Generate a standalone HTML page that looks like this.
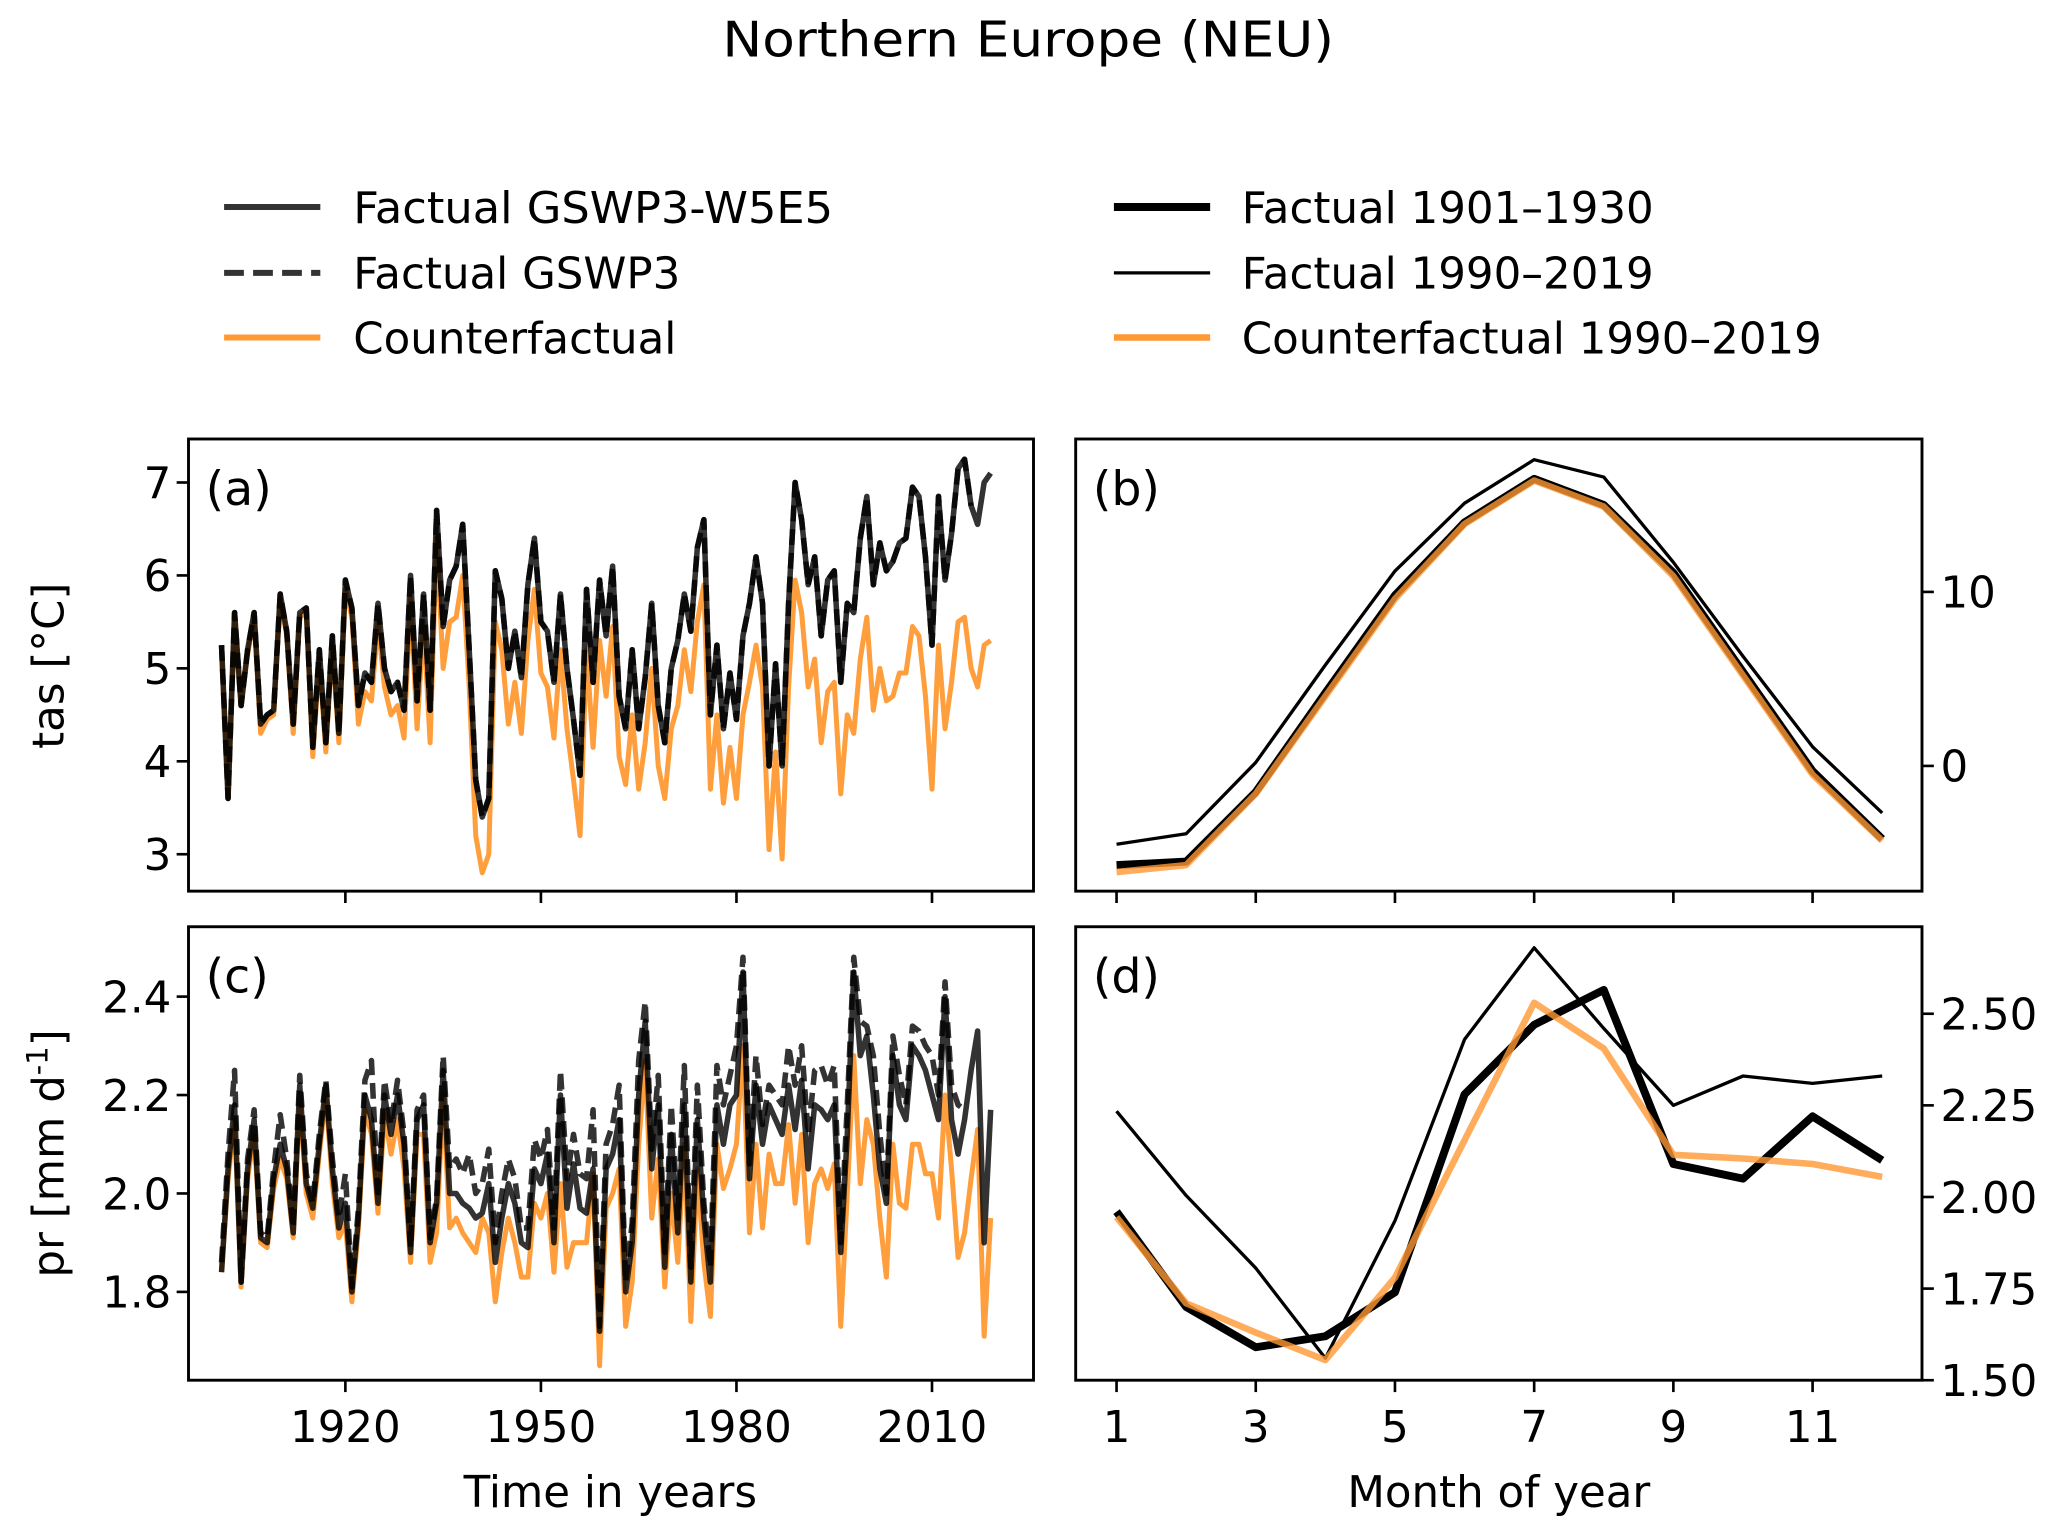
<!DOCTYPE html>
<html><head><meta charset="utf-8"><style>
html,body{margin:0;padding:0;background:#fff}
svg{display:block}
text{font-family:"DejaVu Sans","Liberation Sans",sans-serif;fill:#000}
</style></head><body>
<svg id="fig" width="2067" height="1535" viewBox="0 0 1568 1164.4" xmlns="http://www.w3.org/2000/svg">
<text x="780" y="43" font-size="37" text-anchor="middle" textLength="464" lengthAdjust="spacingAndGlyphs">Northern Europe (NEU)</text>
<g>
 <g><line x1="170" x2="243" y1="157" y2="157" stroke="#333" stroke-width="4.5"/><text x="268" y="169" font-size="33" textLength="364" lengthAdjust="spacingAndGlyphs">Factual GSWP3-W5E5</text></g>
 <g><line x1="170" x2="243" y1="207" y2="207" stroke="#333" stroke-width="4.5" stroke-dasharray="15,7"/><text x="268" y="219" font-size="33">Factual GSWP3</text></g>
 <g><line x1="170" x2="243" y1="256" y2="256" stroke="#ff9933" stroke-width="4.5"/><text x="268" y="268" font-size="33">Counterfactual</text></g>
 <g><line x1="845" x2="918" y1="157" y2="157" stroke="#000" stroke-width="6"/><text x="942" y="169" font-size="33">Factual 1901–1930</text></g>
 <g><line x1="845" x2="918" y1="207" y2="207" stroke="#000" stroke-width="2.5"/><text x="942" y="219" font-size="33">Factual 1990–2019</text></g>
 <g><line x1="845" x2="918" y1="256" y2="256" stroke="#ff9933" stroke-width="5"/><text x="942" y="268" font-size="33">Counterfactual 1990–2019</text></g>
</g>
<g id="plots"></g>
</svg>
<script>
const years = []; for (let y = 1901; y <= 2019; y++) years.push(y);
const tasW5E5 = [5.25,3.6,5.6,4.6,5.2,5.6,4.4,4.5,4.55,5.8,5.4,4.4,5.6,5.65,4.15,5.2,4.2,5.35,4.3,5.95,5.65,4.6,4.95,4.85,5.7,5.0,4.75,4.85,4.55,6.0,4.65,5.8,4.55,6.7,5.45,5.95,6.1,6.55,5.2,3.8,3.4,3.6,6.05,5.75,5.0,5.4,4.9,5.9,6.4,5.5,5.4,4.85,5.8,5.0,4.45,3.85,5.85,4.85,5.95,5.35,6.1,4.7,4.35,5.2,4.35,4.9,5.7,4.6,4.2,5.0,5.3,5.8,5.4,6.3,6.6,4.5,5.25,4.35,4.95,4.45,5.35,5.7,6.2,5.7,3.95,5.05,3.95,5.7,7.0,6.6,5.9,6.2,5.35,5.95,6.05,4.85,5.7,5.6,6.4,6.85,5.9,6.35,6.05,6.15,6.35,6.4,6.95,6.85,6.2,5.25,6.85,5.95,6.45,7.15,7.25,6.75,6.55,7.0,7.1];
const tasGSWP3 = [5.25,3.6,5.6,4.6,5.2,5.6,4.4,4.5,4.55,5.8,5.4,4.4,5.6,5.65,4.15,5.2,4.2,5.35,4.3,5.95,5.65,4.6,4.95,4.85,5.7,5.0,4.75,4.85,4.55,6.0,4.65,5.8,4.55,6.7,5.45,5.95,6.1,6.55,5.2,3.8,3.4,3.6,6.05,5.75,5.0,5.4,4.9,5.9,6.4,5.5,5.4,4.85,5.8,5.0,4.45,3.85,5.85,4.85,5.95,5.35,6.1,4.7,4.35,5.2,4.35,4.9,5.7,4.6,4.2,5.0,5.3,5.8,5.4,6.3,6.6,4.5,5.25,4.35,4.95,4.45,5.35,5.7,6.2,5.7,3.95,5.05,3.95,5.7,7.0,6.6,5.9,6.2,5.35,5.95,6.05,4.85,5.7,5.6,6.4,6.85,5.9,6.35,6.05,6.15,6.35,6.4,6.95,6.85,6.2,5.25,6.85,5.95,6.45,7.15,7.25,6.75];
const tasCounter = [5.2,3.6,5.6,4.6,5.15,5.55,4.3,4.45,4.5,5.75,5.35,4.3,5.55,5.6,4.05,5.1,4.1,5.25,4.2,5.85,5.55,4.4,4.75,4.65,5.5,4.8,4.5,4.6,4.25,5.75,4.35,5.5,4.2,6.4,5.0,5.5,5.55,6.0,4.8,3.2,2.8,3.0,5.5,5.2,4.4,4.85,4.3,5.3,5.85,4.95,4.8,4.25,5.2,4.35,3.8,3.2,5.2,4.15,5.3,4.7,5.45,4.05,3.75,4.5,3.7,4.2,5.0,3.95,3.6,4.35,4.6,5.2,4.75,5.5,5.9,3.7,4.5,3.55,4.15,3.6,4.5,4.85,5.25,4.8,3.05,4.1,2.95,4.8,5.95,5.6,4.8,5.1,4.2,4.75,4.85,3.65,4.5,4.3,5.1,5.55,4.55,5.0,4.65,4.7,4.95,4.95,5.45,5.35,4.7,3.7,5.25,4.35,4.85,5.5,5.55,5.0,4.8,5.25,5.3];
const prW5E5 = [1.84,2.05,2.18,1.82,2.05,2.15,1.91,1.90,2.03,2.10,2.05,1.92,2.22,2.02,1.97,2.10,2.22,2.05,1.93,1.98,1.80,1.95,2.20,2.15,1.98,2.20,2.12,2.20,2.10,1.88,2.15,2.18,1.90,1.98,2.25,2.00,2.00,1.98,1.97,1.95,1.96,2.02,1.86,1.95,2.02,1.98,1.90,1.89,2.05,2.02,2.08,1.90,2.20,1.97,2.06,1.97,1.96,2.05,1.72,2.05,2.08,2.15,1.80,1.90,2.20,2.35,2.05,2.18,1.85,2.12,1.92,2.18,1.82,2.15,1.95,1.82,2.18,2.10,2.18,2.20,2.45,2.03,2.22,2.10,2.18,2.15,2.12,2.22,2.13,2.23,2.05,2.18,2.17,2.15,2.18,1.88,2.12,2.45,2.28,2.32,2.20,2.05,1.98,2.28,2.18,2.15,2.30,2.28,2.25,2.20,2.15,2.40,2.15,2.08,2.15,2.25,2.33,1.90,2.17];
const prGSWP3 = [1.86,2.08,2.25,1.82,2.07,2.17,1.92,1.91,2.05,2.16,2.07,1.93,2.24,2.04,1.98,2.12,2.23,2.07,1.95,2.04,1.81,1.97,2.23,2.27,1.99,2.23,2.14,2.23,2.12,1.89,2.17,2.20,1.91,1.99,2.28,2.05,2.07,2.04,2.08,2.00,2.02,2.09,1.90,2.00,2.07,2.03,1.93,1.93,2.11,2.07,2.13,1.93,2.25,2.03,2.12,2.04,2.03,2.17,1.73,2.10,2.14,2.22,1.82,1.94,2.27,2.39,2.09,2.24,1.88,2.18,1.95,2.26,1.85,2.22,1.98,1.85,2.26,2.18,2.24,2.30,2.48,2.06,2.28,2.14,2.22,2.20,2.18,2.30,2.22,2.30,2.12,2.25,2.26,2.22,2.26,1.90,2.18,2.48,2.35,2.34,2.28,2.12,2.00,2.32,2.24,2.18,2.34,2.33,2.30,2.28,2.20,2.43,2.22,2.18,2.17];
const prCounter = [1.84,2.03,2.15,1.81,2.03,2.12,1.90,1.89,2.01,2.07,2.03,1.91,2.19,2.00,1.95,2.08,2.20,2.02,1.91,1.94,1.78,1.93,2.17,2.12,1.96,2.16,2.08,2.15,2.05,1.86,2.12,2.12,1.86,1.92,2.20,1.93,1.95,1.92,1.90,1.88,1.95,1.92,1.78,1.88,1.95,1.90,1.83,1.83,1.98,1.95,2.00,1.84,2.02,1.85,1.90,1.90,1.90,2.04,1.65,1.97,2.00,2.05,1.73,1.82,2.10,2.27,1.95,2.07,1.81,2.00,1.86,2.10,1.74,2.05,1.86,1.75,2.10,2.01,2.05,2.10,2.30,1.92,2.10,1.93,2.08,2.02,2.02,2.14,1.98,2.12,1.90,2.02,2.05,2.01,2.06,1.73,2.00,2.28,2.02,2.15,2.10,1.95,1.83,2.10,1.98,1.97,2.10,2.10,2.04,2.04,1.95,2.20,2.05,1.87,1.92,2.03,2.13,1.71,1.95];
const months = [1,2,3,4,5,6,7,8,9,10,11,12];
const tasF1901 = [-5.7,-5.5,-1.5,4.2,9.8,14.0,16.5,15.0,11.1,5.4,-0.3,-4.2];
const tasF1990 = [-4.5,-3.9,0.2,5.8,11.2,15.1,17.6,16.6,11.7,6.3,1.1,-2.7];
const tasC1990 = [-6.1,-5.7,-1.6,4.0,9.6,13.9,16.4,14.9,10.9,5.2,-0.5,-4.3];
const prF1901 = [1.96,1.70,1.59,1.62,1.74,2.28,2.47,2.565,2.09,2.05,2.22,2.10];
const prF1990 = [2.234,2.004,1.806,1.56,1.935,2.43,2.68,2.46,2.25,2.33,2.31,2.33];
const prC1990 = [1.945,1.71,1.63,1.555,1.78,2.155,2.53,2.405,2.115,2.105,2.09,2.055];
const yearTicks = [1920,1950,1980,2010];
const tasTicks = [3,4,5,6,7];
const prTicks = [1.8,2.0,2.2,2.4];
const monthTicks = [1,3,5,7,9,11];
const tasMonTicks = [0,10];
const prMonTicks = [1.50,1.75,2.00,2.25,2.50];

const NS = 'http://www.w3.org/2000/svg';
const root = document.getElementById('plots');
function mk(tag, attrs, parent) { const e = document.createElementNS(NS, tag); for (const k in attrs) e.setAttribute(k, attrs[k]); (parent || root).appendChild(e); return e; }
function lin(d0, d1, r0, r1) { return v => r0 + (v - d0) / (d1 - d0) * (r1 - r0); }

const xYear = lin(1920, 2010, 262, 707);
const yTas = lin(3, 7, 648, 366);
const yPr = lin(1.8, 2.4, 980, 756);
const xMon = lin(1, 11, 847, 1375);
const yTasM = lin(0, 10, 581, 449);
const yPrM = lin(1.5, 2.5, 1047, 769);

function series(xs, ys, xf, yf, style, name) {
  const d = ys.map((v, i) => (i ? 'L' : 'M') + xf(xs[i]).toFixed(2) + ' ' + yf(v).toFixed(2)).join(' ');
  const p = mk('path', Object.assign({ d: d, fill: 'none', 'stroke-linejoin': 'round' }, style));
  
  
}
function panel(x0, x1, y0, y1, label, name) {
  const g = mk('g', {});
  
  
  const t = mk('text', { x: x0 + 13, y: y0 + 50, 'font-size': 36 }, g); t.textContent = label;
  
  
}
function frame(x0, x1, y0, y1) {
  const r = mk('rect', { x: x0, y: y0, width: x1 - x0, height: y1 - y0, fill: 'none', stroke: '#000', 'stroke-width': 2.2 });
  
  
}
function xticks(vals, xf, yb, labels) {
  vals.forEach(v => {
    const l = mk('line', { x1: xf(v), x2: xf(v), y1: yb, y2: yb + 9, stroke: '#000', 'stroke-width': 2 });
    
    
    if (labels) {
      const t = mk('text', { x: xf(v), y: yb + 47, 'font-size': 33, 'text-anchor': 'middle' }); t.textContent = v;
      
      
    }
  });
}
function yticks(vals, yf, x, right, fmt) {
  vals.forEach(v => {
    const l = mk('line', { x1: x, x2: right ? x + 9 : x - 9, y1: yf(v), y2: yf(v), stroke: '#000', 'stroke-width': 2 });
    
    
    const t = mk('text', { x: right ? x + 14 : x - 13, y: yf(v) + 12, 'font-size': 33, 'text-anchor': right ? 'start' : 'end' }); t.textContent = fmt(v);
    
    
  });
}

const blk = { stroke: '#000', 'stroke-opacity': 0.8, 'stroke-width': 4.2 };
const org = { stroke: '#ff9933', 'stroke-opacity': 0.95, 'stroke-width': 3.8 };

// Panel a
panel(143, 784, 333, 676, '(a)', 'panel-a');
series(years, tasCounter, xYear, yTas, org, 'tas-counterfactual-line');
series(years.slice(0, tasGSWP3.length), tasGSWP3, xYear, yTas, Object.assign({ 'stroke-dasharray': '12,6' }, blk), 'tas-gswp3-line');
series(years, tasW5E5, xYear, yTas, blk, 'tas-gswp3-w5e5-line');
frame(143, 784, 333, 676);
xticks(yearTicks, xYear, 676, false);
yticks(tasTicks, yTas, 143, false, v => v);

// Panel c
panel(143, 784, 703, 1047, '(c)', 'panel-c');
series(years, prCounter, xYear, yPr, org, 'pr-counterfactual-line');
series(years.slice(0, prGSWP3.length), prGSWP3, xYear, yPr, Object.assign({ 'stroke-dasharray': '12,6' }, blk), 'pr-gswp3-line');
series(years, prW5E5, xYear, yPr, blk, 'pr-gswp3-w5e5-line');
frame(143, 784, 703, 1047);
xticks(yearTicks, xYear, 1047, true);
yticks(prTicks, yPr, 143, false, v => v.toFixed(1));

// Panel b
panel(816, 1458, 333, 676, '(b)', 'panel-b');
series(months, tasF1901, xMon, yTasM, { stroke: '#000', 'stroke-width': 6 }, 'tas-factual-1901-1930-line');
series(months, tasF1990, xMon, yTasM, { stroke: '#000', 'stroke-width': 2.5 }, 'tas-factual-1990-2019-line');
series(months, tasC1990, xMon, yTasM, { stroke: '#ff9933', 'stroke-opacity': 0.8, 'stroke-width': 5 }, 'tas-counterfactual-1990-2019-line');
frame(816, 1458, 333, 676);
xticks(monthTicks, xMon, 676, false);
yticks(tasMonTicks, yTasM, 1458, true, v => v);

// Panel d
panel(816, 1458, 703, 1047, '(d)', 'panel-d');
series(months, prF1901, xMon, yPrM, { stroke: '#000', 'stroke-width': 6 }, 'pr-factual-1901-1930-line');
series(months, prF1990, xMon, yPrM, { stroke: '#000', 'stroke-width': 2.5 }, 'pr-factual-1990-2019-line');
series(months, prC1990, xMon, yPrM, { stroke: '#ff9933', 'stroke-opacity': 0.8, 'stroke-width': 5 }, 'pr-counterfactual-1990-2019-line');
frame(816, 1458, 703, 1047);
xticks(monthTicks, xMon, 1047, true);
yticks(prMonTicks, yPrM, 1458, true, v => v.toFixed(2));

// axis titles
let t;
t = mk('text', { x: 463, y: 1143, 'font-size': 33, 'text-anchor': 'middle' }); t.textContent = 'Time in years';


t = mk('text', { x: 1137, y: 1143, 'font-size': 33, 'text-anchor': 'middle' }); t.textContent = 'Month of year';


t = mk('text', { x: 0, y: 0, 'font-size': 33, 'text-anchor': 'middle', transform: 'translate(48,505) rotate(-90)' }); t.textContent = 'tas [°C]';


t = mk('text', { x: 0, y: 0, 'font-size': 33, 'text-anchor': 'middle', transform: 'translate(48,875) rotate(-90)' });


t.appendChild(document.createTextNode('pr [mm d'));
const sup = mk('tspan', { dy: -12, 'font-size': 22 }, t); sup.textContent = '-1';
const rest = mk('tspan', { dy: 12 }, t); rest.textContent = ']';
</script>
</body></html>
